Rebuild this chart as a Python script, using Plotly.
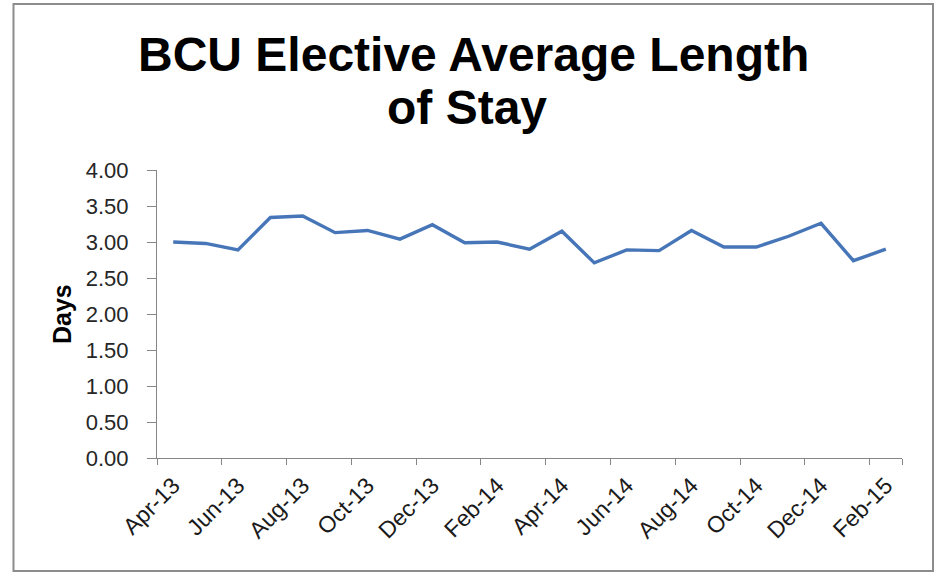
import plotly.graph_objects as go

# Monthly elective average length of stay (days)
months = ["Apr-13", "May-13", "Jun-13", "Jul-13", "Aug-13", "Sep-13", "Oct-13",
          "Nov-13", "Dec-13", "Jan-14", "Feb-14", "Mar-14", "Apr-14", "May-14",
          "Jun-14", "Jul-14", "Aug-14", "Sep-14", "Oct-14", "Nov-14", "Dec-14",
          "Jan-15", "Feb-15"]
avg_los = [3.00, 2.98, 2.89, 3.34, 3.36, 3.13, 3.16, 3.04, 3.24, 2.99, 3.00, 2.90,
           3.15, 2.71, 2.89, 2.88, 3.16, 2.93, 2.93, 3.08, 3.26, 2.74, 2.90]
y_ticks = [0, 0.5, 1, 1.5, 2, 2.5, 3, 3.5, 4]

W, H = 937, 572
M_L, M_R, M_T, M_B = 157, 35, 170, 114
PW, PH = W - M_L - M_R, H - M_T - M_B


def px_x(p):
    return (p - M_L) / PW


def px_y(p):
    return (H - M_B - p) / PH


fig = go.Figure()
fig.add_trace(go.Scatter(
    x=months, y=avg_los, mode="lines",
    line=dict(color="#4676B8", width=3.4),
    hoverinfo="x+y", showlegend=False,
))

axis_color = "#868686"
fig.update_layout(
    width=W, height=H,
    margin=dict(l=M_L, r=M_R, t=M_T, b=M_B),
    paper_bgcolor="white", plot_bgcolor="white",
    font=dict(family="Liberation Sans, Arial, sans-serif", color="#1a1a1a"),
    xaxis=dict(
        type="category", range=[-0.5, len(months) - 0.5],
        tickmode="array", tickvals=months[::2], ticktext=months[::2],
        tickson="boundaries", ticks="outside", ticklen=6, tickcolor=axis_color,
        ticklabelstandoff=4,
        tickangle=-45, tickfont=dict(size=23, color="#1a1a1a"),
        showline=True, linecolor=axis_color, linewidth=1,
        showgrid=False, zeroline=False,
    ),
    yaxis=dict(
        range=[0, 4], tickmode="array", tickvals=y_ticks,
        ticktext=[f"{v:.2f}" for v in y_ticks],
        ticks="outside", ticklen=9, tickcolor=axis_color,
        ticklabelstandoff=14,
        tickfont=dict(size=22, color="#262626"),
        showline=True, linecolor=axis_color, linewidth=1,
        showgrid=False, zeroline=False,
    ),
    annotations=[
        dict(text="<b>BCU Elective Average Length</b>", xref="paper", yref="paper",
             x=px_x(473), y=px_y(54), xanchor="center", yanchor="middle",
             showarrow=False, font=dict(size=48, color="black")),
        dict(text="<b>of Stay</b>", xref="paper", yref="paper",
             x=px_x(467), y=px_y(107), xanchor="center", yanchor="middle",
             showarrow=False, font=dict(size=48, color="black")),
        dict(text="<b>Days</b>", xref="paper", yref="paper",
             x=px_x(62), y=0.5, xanchor="center", yanchor="middle",
             textangle=-90, showarrow=False, font=dict(size=25, color="black")),
    ],
    shapes=[
        dict(type="rect", xref="paper", yref="paper",
             x0=px_x(13.5), x1=px_x(933), y0=px_y(571), y1=px_y(4),
             line=dict(color="#8c8c8c", width=2), fillcolor="rgba(0,0,0,0)",
             layer="below"),
    ],
)

fig.write_html("out.html")
